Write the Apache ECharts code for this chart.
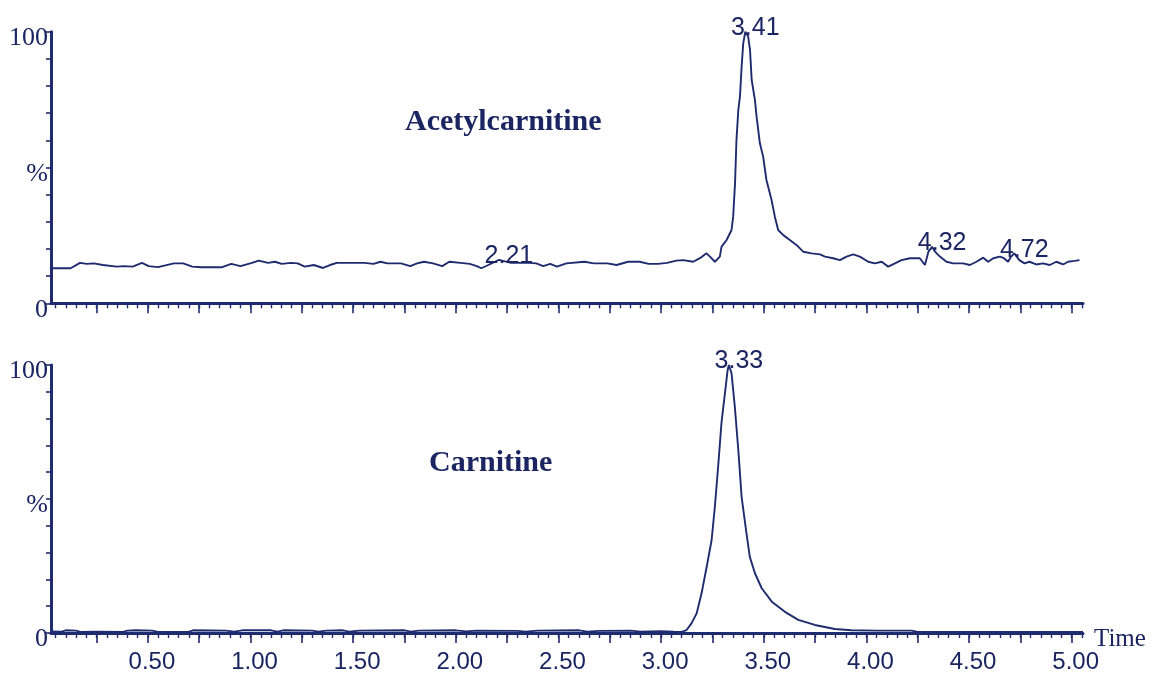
<!DOCTYPE html>
<html>
<head>
<meta charset="utf-8">
<script src="https://cdn.jsdelivr.net/npm/echarts@6/dist/echarts.min.js"></script>
<style>
  html, body { margin: 0; padding: 0; background: #ffffff; }
  #chart { width: 1155px; height: 675px; }
</style>
</head>
<body>
<div id="chart"></div>
<script>
// Retention-time axis range (min)
const timeMin = 0.028;
const timeMax = 5.055;

// Tick labels on the time axis
const timeTickLabels = ['0.50', '1.00', '1.50', '2.00', '2.50', '3.00', '3.50', '4.00', '4.50', '5.00'];
// Major tick positions (every 0.25 min)
const majorTicks = [0.25, 0.5, 0.75, 1.0, 1.25, 1.5, 1.75, 2.0, 2.25, 2.5, 2.75, 3.0, 3.25, 3.5, 3.75, 4.0, 4.25, 4.5, 4.75, 5.0];
// Intensity axis labels
const intensityLabels = { 0: '0', 50: '%', 100: '100' };

// Acetylcarnitine trace: retention time (min) and relative intensity (%)
const acetylTime = [
  0.028, 0.124, 0.169, 0.203, 0.236, 0.281, 0.348, 0.381, 0.426, 0.471, 0.504, 0.549,
  0.627, 0.672, 0.716, 0.761, 0.862, 0.906, 0.951, 1.007, 1.040, 1.085, 1.119, 1.152,
  1.197, 1.230, 1.264, 1.308, 1.353, 1.387, 1.420, 1.554, 1.599, 1.633, 1.666, 1.733,
  1.778, 1.811, 1.845, 1.889, 1.934, 1.968, 2.023, 2.068, 2.102, 2.124, 2.158, 2.21,
  2.269, 2.357, 2.392, 2.426, 2.460, 2.493, 2.538, 2.627, 2.672, 2.738, 2.783, 2.839,
  2.895, 2.940, 2.984, 3.029, 3.074, 3.108, 3.156, 3.189, 3.221, 3.238, 3.262, 3.286,
  3.294, 3.319, 3.343, 3.351, 3.360, 3.367, 3.376, 3.384, 3.392, 3.400, 3.41, 3.424,
  3.433, 3.441, 3.457, 3.465, 3.481, 3.497, 3.513, 3.538, 3.554, 3.570, 3.595, 3.627,
  3.659, 3.692, 3.733, 3.774, 3.798, 3.838, 3.871, 3.903, 3.936, 3.968, 4.009, 4.041,
  4.074, 4.106, 4.139, 4.171, 4.212, 4.260, 4.285, 4.302, 4.32, 4.334, 4.358, 4.390,
  4.423, 4.471, 4.504, 4.536, 4.569, 4.593, 4.618, 4.650, 4.670, 4.690, 4.705, 4.72,
  4.745, 4.770, 4.794, 4.827, 4.860, 4.893, 4.925, 4.958, 4.982, 5.014, 5.038
];
const acetylPct = [
  12.9, 12.9, 14.9, 14.5, 14.7, 14.1, 13.5, 13.7, 13.5, 14.9, 13.7, 13.3,
  14.7, 14.7, 13.5, 13.3, 13.3, 14.5, 13.7, 14.9, 15.7, 14.9, 15.3, 14.5,
  14.9, 14.7, 13.5, 14.1, 13.0, 14.1, 14.9, 14.9, 14.5, 15.3, 14.7, 14.7,
  13.7, 14.7, 15.3, 14.7, 13.7, 15.3, 14.9, 14.5, 13.7, 12.9, 14.1, 16.0,
  14.9, 14.9, 14.7, 13.7, 14.5, 13.5, 14.7, 15.3, 14.7, 14.7, 14.1, 15.3,
  15.3, 14.5, 14.5, 14.9, 15.7, 15.9, 15.3, 16.6, 18.4, 17.2, 15.3, 17.2,
  20.8, 23.3, 27.0, 31.9, 44.2, 60.1, 71.2, 76.1, 87.1, 95.7, 100, 98.2,
  93.3, 82.3, 74.8, 68.7, 58.9, 54.0, 45.4, 38.0, 31.9, 27.0, 25.1, 23.3,
  21.5, 19.0, 18.4, 18.0, 17.2, 16.6, 15.9, 17.2, 18.0, 17.2, 15.3, 14.7,
  15.3, 13.5, 14.7, 15.9, 16.6, 16.6, 14.1, 19.0, 20.8, 19.0, 17.2, 15.3,
  14.7, 14.7, 14.1, 15.3, 16.8, 15.3, 16.6, 17.2, 16.6, 15.3, 17.2, 18.4,
  15.9, 14.7, 15.3, 14.3, 14.7, 14.1, 15.3, 14.3, 15.3, 15.6, 15.9
];
const acetylPeaks = ['2.21', '3.41', '4.32', '4.72'];

// Carnitine trace: retention time (min) and relative intensity (%)
const carnitineTime = [
  0.028, 0.08, 0.10, 0.15, 0.17, 0.25, 0.38, 0.40, 0.44, 0.52, 0.55, 0.70,
  0.72, 0.88, 0.92, 0.96, 1.10, 1.13, 1.16, 1.30, 1.33, 1.37, 1.45, 1.48,
  1.53, 1.75, 1.78, 1.82, 2.00, 2.05, 2.10, 2.30, 2.34, 2.40, 2.60, 2.64,
  2.70, 2.85, 2.90, 3.00, 3.06, 3.10, 3.124, 3.148, 3.173, 3.197, 3.222, 3.246,
  3.262, 3.278, 3.294, 3.311, 3.324, 3.33, 3.343, 3.359, 3.376, 3.392, 3.416, 3.432,
  3.457, 3.490, 3.539, 3.603, 3.668, 3.749, 3.846, 3.927, 4.05, 4.22, 4.25, 4.60, 5.055
];
const carnitinePct = [
  0.6, 0.5, 1.0, 0.9, 0.4, 0.5, 0.4, 0.9, 1.0, 0.9, 0.4, 0.5,
  1.0, 0.9, 0.5, 1.0, 1.0, 0.5, 1.0, 0.9, 0.5, 0.9, 1.0, 0.5,
  0.9, 1.0, 0.5, 0.9, 1.0, 0.6, 0.9, 0.8, 0.5, 0.9, 1.0, 0.5,
  0.8, 0.9, 0.5, 0.7, 0.5, 0.4, 1.1, 3.6, 7.3, 14.8, 24.7, 34.7,
  47.3, 62.3, 78.4, 89.6, 98.1, 100, 96.9, 84.4, 68.3, 50.8, 37.1, 28.4,
  22.3, 16.7, 11.7, 7.9, 4.9, 3.0, 1.5, 1.0, 0.9, 0.9, 0.4, 0.4, 0.4
];
const carnitinePeaks = ['3.33'];

const navy = '#1f2b6e';
const textNavy = '#1b2562';

// Minor ticks every 0.05 min
const minorTicks = [];
for (let k = 1; k <= 101; k++) minorTicks.push(+(k * 0.05).toFixed(2));

function buildSeriesData(times, values, peaks) {
  const peakValues = peaks.map(Number);
  return times.map((t, i) => {
    const item = { value: [t, values[i]] };
    if (peakValues.indexOf(t) !== -1) {
      item.label = { show: true, formatter: t.toFixed(2) };
    }
    return item;
  });
}

function majorAxis(gridIndex, withLabels) {
  return {
    type: 'value', gridIndex: gridIndex, position: 'bottom',
    min: timeMin, max: timeMax,
    axisLine: { show: true, onZero: false, lineStyle: { color: navy, width: 3 } },
    axisTick: { show: true, customValues: majorTicks, length: 10, lineStyle: { color: navy, width: 1.6 } },
    axisLabel: withLabels ? {
      show: true,
      customValues: timeTickLabels.map(Number),
      formatter: v => timeTickLabels.find(s => Number(s) === v) || '',
      color: textNavy, fontFamily: 'Liberation Sans', fontSize: 24,
      margin: 17, padding: [0, 0, 0, 8]
    } : { show: false },
    splitLine: { show: false },
    name: withLabels ? 'Time' : '',
    nameLocation: 'end', nameGap: 11, nameMoveOverlap: false,
    nameTextStyle: { color: textNavy, fontFamily: 'Liberation Serif', fontSize: 25,
      verticalAlign: 'top', lineHeight: 12 }
  };
}

function minorAxis(gridIndex) {
  return {
    type: 'value', gridIndex: gridIndex, position: 'bottom',
    min: timeMin, max: timeMax,
    axisLine: { show: false, onZero: false },
    axisTick: { show: true, customValues: minorTicks, length: 5, lineStyle: { color: navy, width: 1.4 } },
    axisLabel: { show: false },
    splitLine: { show: false }
  };
}

function intensityAxis(gridIndex) {
  return {
    type: 'value', gridIndex: gridIndex, min: 0, max: 100, interval: 10,
    axisLine: { show: true, lineStyle: { color: navy, width: 3 } },
    axisTick: { show: true, length: 5, lineStyle: { color: navy, width: 1.6 } },
    axisLabel: {
      show: true, customValues: [0, 50, 100],
      formatter: v => intensityLabels[v],
      color: textNavy, fontFamily: 'Liberation Serif', fontSize: 26,
      margin: 3, verticalAlign: 'top', lineHeight: 13
    },
    splitLine: { show: false }
  };
}

function traceSeries(axisIndex, times, values, peaks) {
  return {
    type: 'line', xAxisIndex: axisIndex * 2, yAxisIndex: axisIndex,
    data: buildSeriesData(times, values, peaks),
    symbol: 'circle', symbolSize: 0, showSymbol: true,
    lineStyle: { color: navy, width: 1.9 },
    itemStyle: { color: navy },
    label: {
      show: false, position: 'top', distance: 0, offset: [10, 9],
      color: textNavy, fontFamily: 'Liberation Sans', fontSize: 25
    },
    clip: false, silent: true, animation: false
  };
}

const chart = echarts.init(document.getElementById('chart'));
chart.setOption({
  backgroundColor: '#ffffff',
  animation: false,
  title: [
    { text: 'Acetylcarnitine', left: 400, top: 102,
      textStyle: { color: textNavy, fontFamily: 'Liberation Serif', fontWeight: 'bold', fontSize: 30 } },
    { text: 'Carnitine', left: 424, top: 443,
      textStyle: { color: textNavy, fontFamily: 'Liberation Serif', fontWeight: 'bold', fontSize: 30 } }
  ],
  grid: [
    { left: 51, top: 31.7, width: 1032, height: 271.6, outerBoundsMode: 'none' },
    { left: 51, top: 365, width: 1032, height: 268, outerBoundsMode: 'none' }
  ],
  xAxis: [majorAxis(0, false), minorAxis(0), majorAxis(1, true), minorAxis(1)],
  yAxis: [intensityAxis(0), intensityAxis(1)],
  series: [
    traceSeries(0, acetylTime, acetylPct, acetylPeaks),
    traceSeries(1, carnitineTime, carnitinePct, carnitinePeaks)
  ]
});
</script>
</body>
</html>
